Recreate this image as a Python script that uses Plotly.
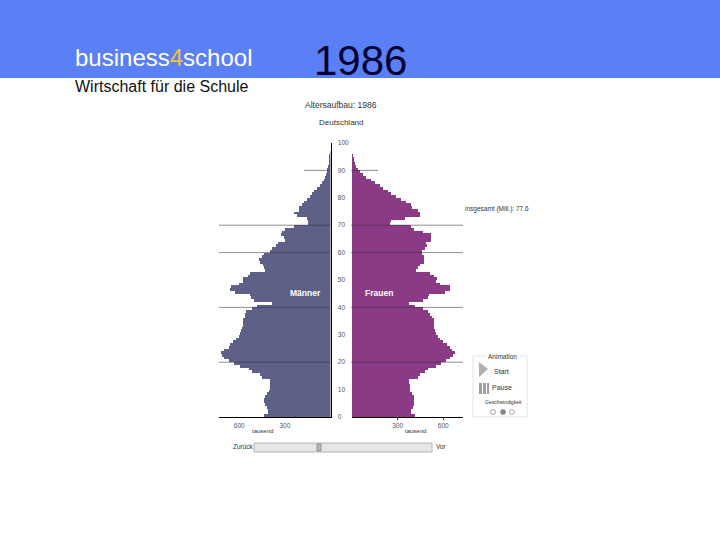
import plotly.graph_objects as go

ages = list(range(0, 97))
male = [434,414,414,418,429,434,434,429,418,407,401,396,396,396,451,462,517,533,593,633,
        670,699,714,718,699,670,659,642,620,604,593,589,583,572,572,572,565,565,554,517,
        484,385,506,523,528,626,664,655,604,576,572,545,528,429,440,445,462,469,451,440,
        396,385,357,342,298,304,324,320,298,239,151,145,155,217,239,210,204,188,173,155,
        138,123,107,90,72,57,46,39,31,24,20,15,11,9,7,4,2]
female = [412,390,390,401,410,410,410,405,392,379,379,379,375,375,434,445,477,499,554,587,
          615,642,664,675,659,646,624,598,576,565,554,545,541,537,537,537,528,510,499,466,
          412,372,466,499,506,609,646,642,576,554,558,537,510,423,434,445,471,475,471,462,
          458,477,493,484,521,521,521,466,405,390,247,258,346,445,445,434,396,390,357,324,
          291,258,237,204,182,153,127,94,72,50,39,28,20,11,7,4,0]
age_ticks = [0,10,20,30,40,50,60,70,80,90,100]
pop_ticks = [300,600]
full_lines = [20,40,60,70]
short_line = 90

MALE="#5f6088"; FEMALE="#8b3a86"; FONT="Liberation Sans"; GREY="#555555"
def px(x): return x/720
def py(y): return 1-y/540

fig = go.Figure()
fig.add_trace(go.Bar(y=ages,x=male,orientation="h",width=1,offset=0,marker=dict(color=MALE,line_width=0),xaxis="x",yaxis="y",name="Männer"))
fig.add_trace(go.Bar(y=ages,x=female,orientation="h",width=1,offset=0,marker=dict(color=FEMALE,line_width=0),xaxis="x2",yaxis="y2",name="Frauen"))

shapes=[dict(type="rect",xref="paper",yref="paper",x0=0,x1=1,y0=py(78),y1=1,fillcolor="#5b80f6",line_width=0,layer="below")]
line=dict(color="rgba(50,50,60,0.55)",width=1)
for a in full_lines:
    shapes.append(dict(type="line",xref="paper",yref="y",x0=px(219),x1=px(330),y0=a,y1=a,line=line))
    shapes.append(dict(type="line",xref="paper",yref="y",x0=px(351),x1=px(463),y0=a,y1=a,line=line))
shapes.append(dict(type="line",xref="paper",yref="y",x0=px(304),x1=px(330),y0=short_line,y1=short_line,line=line))
shapes.append(dict(type="line",xref="paper",yref="y",x0=px(351),x1=px(378),y0=short_line,y1=short_line,line=line))
def rect(x0,y0,x1,y1,fill,col=None,w=1):
    return dict(type="rect",xref="paper",yref="paper",x0=px(x0),x1=px(x1),y0=py(y1),y1=py(y0),fillcolor=fill,line=dict(color=col or fill,width=w if col else 0))
# slider
shapes.append(rect(254,443,432,452,"#e6e6e6","#b4b4b4"))
shapes.append(rect(317,444,321,451,"#b8b8b8","#909090"))
# animation panel
shapes.append(dict(type="path",xref="paper",yref="paper",line=dict(color="#e2e2e2",width=1),
    path=f"M {px(488)} {py(356)} L {px(473)} {py(356)} L {px(473)} {py(417)} L {px(527)} {py(417)} L {px(527)} {py(356)} L {px(520)} {py(356)}"))
shapes.append(dict(type="path",xref="paper",yref="paper",fillcolor="#b0b0b0",line_width=0,
    path=f"M {px(479)} {py(362)} L {px(488)} {py(369)} L {px(479)} {py(377)} Z"))
for x0,x1 in [(479,482),(483,486),(487,489)]:
    shapes.append(rect(x0,383,x1,394,"#a0a0a0"))
for i,x in enumerate([493,503,512]):
    shapes.append(dict(type="circle",xref="paper",yref="paper",x0=px(x-2.5),x1=px(x+2.5),y0=py(414.5),y1=py(409.5),
        fillcolor="#888888" if i==1 else "white",line=dict(color="#888888",width=0.7)))

def ann(x,y,text,size,color="#333333",anchor="center",**kw):
    return dict(x=px(x),y=py(y),xref="paper",yref="paper",text=text,showarrow=False,xanchor=anchor,yanchor="middle",
                font=dict(family=FONT,size=size,color=color),**kw)
anns=[
 ann(73,58,'business<span style="color:#f0c040">4</span>school',24,"#ffffff","left"),
 ann(73,87,"Wirtschaft für die Schule",16,"#111111","left"),
 ann(312,60,"1986",42,"#000033","left"),
 ann(341,105,"Altersaufbau: 1986",8.5),
 ann(341,123,"Deutschland",8),
 ann(305,293,"<b>Männer</b>",8.5,"#ffffff"),
 ann(379,293,"<b>Frauen</b>",8.5,"#ffffff"),
 ann(497,209,"insgesamt (Mill.): 77.6",6.5),
 ann(262,431,"tausend",6),
 ann(416,431,"tausend",6),
 ann(243,447,"Zurück",6.5),
 ann(441,447,"Vor",6.5),
 ann(502,356,"Animation",6.5,bgcolor="white"),
 ann(501,371,"Start",7),
 ann(502,387,"Pause",7),
 ann(504,402,"Geschwindigkeit",5),
]
tickfont=dict(family=FONT,size=6.5,color=GREY)
fig.update_layout(
    width=720,height=540,autosize=False,margin=dict(l=0,r=0,t=0,b=0,autoexpand=False),
    paper_bgcolor="white",plot_bgcolor="white",showlegend=False,bargap=0,
    shapes=shapes,annotations=anns,
    xaxis=dict(domain=[px(219),px(330.5)],range=[733,0],tickvals=pop_ticks,ticktext=[str(v) for v in pop_ticks],
        showgrid=False,zeroline=False,showline=True,linecolor="black",linewidth=1,ticks="outside",ticklen=2,tickcolor="white",tickfont=tickfont,anchor="y"),
    xaxis2=dict(domain=[px(352),px(463)],range=[0,730],tickvals=pop_ticks,ticktext=[str(v) for v in pop_ticks],
        showgrid=False,zeroline=False,showline=True,linecolor="black",linewidth=1,ticks="outside",ticklen=2,tickcolor="#333333",tickfont=tickfont,anchor="y2"),
    yaxis=dict(domain=[py(417),py(143)],range=[0,100],side="right",anchor="x",tickvals=age_ticks,showgrid=False,zeroline=False,
        showline=True,linecolor="black",linewidth=1,ticks="outside",ticklen=5,tickcolor="rgba(0,0,0,0)",tickfont=tickfont),
    yaxis2=dict(domain=[py(417),py(143)],range=[0,100],anchor="x2",showticklabels=False,showgrid=False,zeroline=False,showline=False),
)
fig.write_html("out.html",config={"displayModeBar":False},post_script="document.body.style.margin='0';")
